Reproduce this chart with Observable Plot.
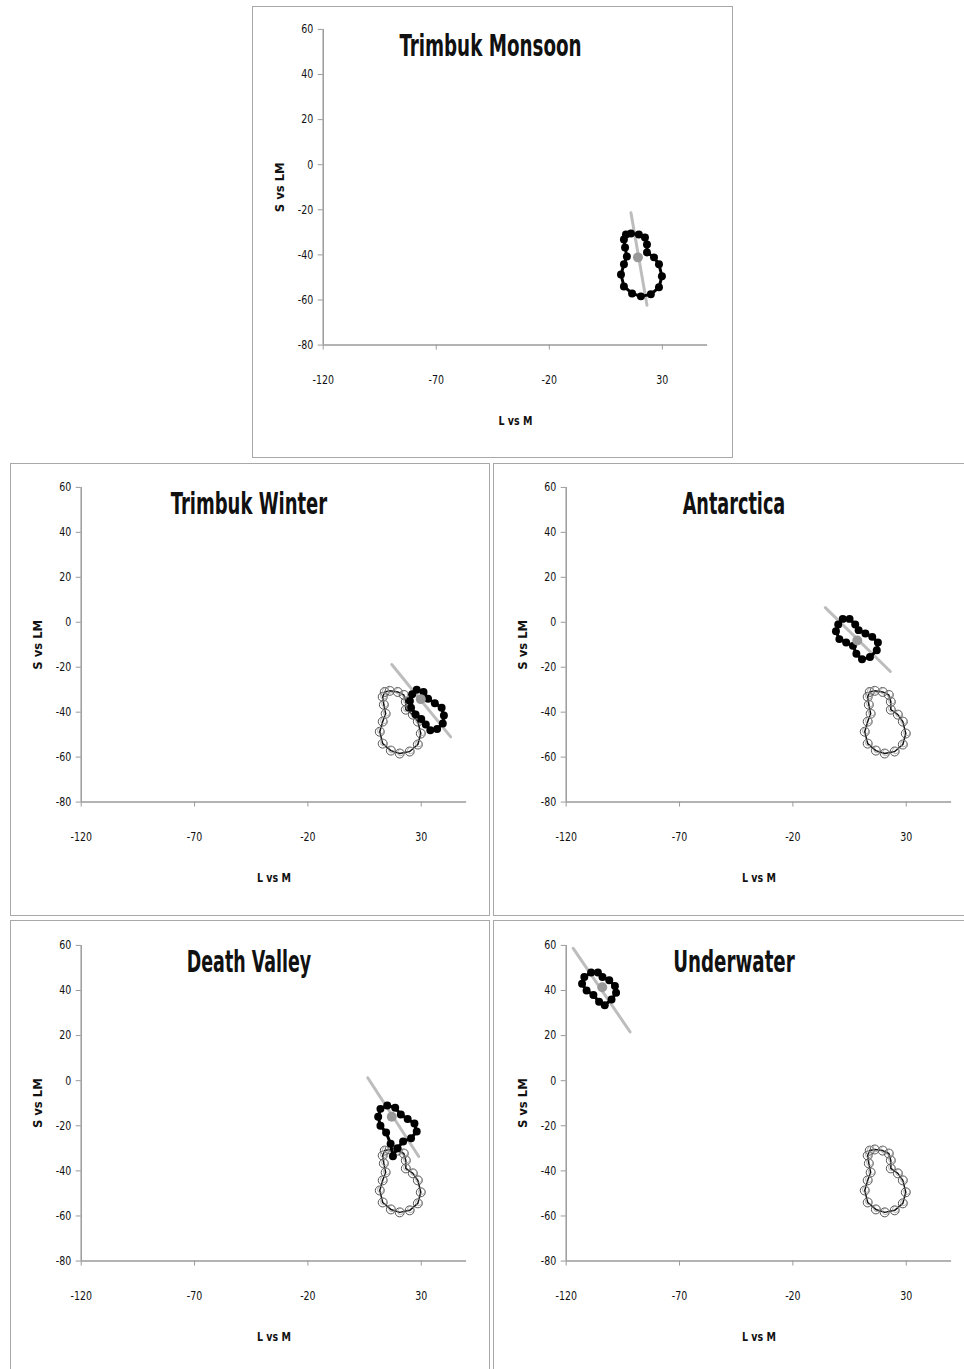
<!DOCTYPE html>
<html>
<head>
<meta charset="utf-8">
<script src="https://cdn.jsdelivr.net/npm/d3@7"></script>
<script src="https://cdn.jsdelivr.net/npm/@observablehq/plot@0.6"></script>
<style>
  html, body { margin: 0; padding: 0; background: #fff; }
  #page { position: relative; width: 964px; height: 1369px; overflow: hidden; background: #fff; }
  .panel { position: absolute; box-sizing: border-box; border: 1.5px solid #a8a8a8; overflow: hidden; background: #fff; }
  .panel svg { position: absolute; left: -1.5px; top: -1.5px; }
</style>
</head>
<body>
<div id="page"></div>
<script>
// Axis ticks
const xTicks = [-120, -70, -20, 30];
const yTicks = [-80, -60, -40, -20, 0, 20, 40, 60];
const xLabel = "L vs M";
const yLabel = "S vs LM";

// Reference condition: Trimbuk Monsoon  [L vs M, S vs LM]
const monsoon = [
  [13.9, -31], [16.1, -30.5], [19.6, -31], [22.3, -32.3], [23.2, -35.4], [23.2, -38.9],
  [26.3, -41.1], [28.5, -44.2], [29.8, -49.5], [28.5, -54.4], [24.9, -57.5], [20.5, -58.4],
  [16.6, -57.1], [13.0, -54], [11.7, -48.7], [13.0, -44.2], [14.3, -40.7], [13.5, -36.7], [13.0, -33.2]
];
const monsoonFit = [[16.1, -21.3], [23.2, -62.3]];
const monsoonCenter = [19.2, -41.1];

// Trimbuk Winter
const winter = [
  [26, -32], [28, -30], [31, -31], [33, -34], [36, -36], [39, -38], [40, -41.5], [39.5, -45],
  [37, -47.5], [34, -48], [32, -45.5], [30, -43], [27.5, -41], [25.5, -38], [25, -35]
];
const winterFit = [[17, -18.8], [43, -51]];
const winterCenter = [29.8, -34.2];

// Antarctica
const antarctica = [
  [-1, -4], [0, -1], [2, 1.5], [5, 1.5], [7.5, -1], [9, -3.5], [12, -5], [15, -6.5],
  [17.5, -9], [17, -12.5], [14, -15.5], [10.5, -16.5], [8, -14], [6.5, -10.5], [3.5, -9], [0.5, -7.5]
];
const antarcticaFit = [[-5.7, 6.5], [23, -21.9]];
const antarcticaCenter = [8.4, -8.1];

// Death Valley
const deathValley = [
  [11, -16], [12, -12.5], [15, -11], [18.5, -12], [21, -15], [24, -17], [27, -19], [28, -22.5],
  [25.5, -25.5], [22, -27], [19.5, -30], [17.5, -33.5], [16.5, -28], [14.5, -23], [12, -20]
];
const deathValleyFit = [[6.4, 1.3], [28.9, -33.6]];
const deathValleyCenter = [17, -16];

// Underwater
const underwater = [
  [-113, 43], [-112, 46], [-109, 48], [-106, 48], [-104, 46], [-101, 44.5], [-98.5, 42],
  [-98, 39], [-100, 36], [-103, 33.5], [-105.5, 35], [-108, 38], [-111, 40]
];
const underwaterFit = [[-116.9, 58.7], [-91.8, 21.6]];
const underwaterCenter = [-104.1, 41.4];

const FONT = "'Liberation Sans Narrow', 'DejaVu Sans Condensed', 'DejaVu Sans', sans-serif";

const panels = [
  {L: 252, T: 6,   W: 481, H: 452, mL: 71, mT: 23, mR: 24, mB: 112, title: "Trimbuk Monsoon", tw: 183, pts: monsoon, fit: monsoonFit, center: monsoonCenter, ref: false},
  {L: 10,  T: 463, W: 480, H: 453, mL: 71, mT: 24, mR: 22, mB: 113, title: "Trimbuk Winter", tw: 157, pts: winter, fit: winterFit, center: winterCenter, ref: true},
  {L: 493, T: 463, W: 480, H: 453, mL: 73, mT: 24, mR: 20, mB: 113, title: "Antarctica", tw: 103, pts: antarctica, fit: antarcticaFit, center: antarcticaCenter, ref: true},
  {L: 10,  T: 920, W: 480, H: 453, mL: 71, mT: 25, mR: 22, mB: 111, title: "Death Valley", tw: 125, pts: deathValley, fit: deathValleyFit, center: deathValleyCenter, ref: true},
  {L: 493, T: 920, W: 480, H: 453, mL: 73, mT: 25, mR: 20, mB: 111, title: "Underwater", tw: 122, pts: underwater, fit: underwaterFit, center: underwaterCenter, ref: true}
];

const page = document.getElementById("page");

function squeeze(t, len) {
  t.setAttribute("textLength", len);
  t.setAttribute("lengthAdjust", "spacingAndGlyphs");
}

for (const p of panels) {
  const marks = [
    Plot.ruleX([-120], {y1: -80, y2: 60, stroke: "#9a9a9a", strokeWidth: 1.5}),
    Plot.ruleY([-80], {x1: -120, x2: 50, stroke: "#9a9a9a", strokeWidth: 1.5}),
    Plot.axisY({ticks: yTicks, tickSize: 5, tickPadding: 5, stroke: "#9a9a9a", fill: "#111", label: null, tickFormat: d => String(d), fontSize: 12}),
    Plot.axisX({ticks: xTicks, tickSize: 5, tickPadding: 26, stroke: "#9a9a9a", fill: "#111", label: null, tickFormat: d => String(d), fontSize: 12}),
    Plot.text([p.title], {text: d => d, frameAnchor: "top", dx: -25, dy: 17, fontSize: 31, fontWeight: "bold", lineAnchor: "middle", textAnchor: "middle", fill: "#111"}),
    Plot.text([yLabel], {text: d => d, frameAnchor: "left", dx: -43, rotate: -90, fontSize: 12, fontWeight: "bold", textAnchor: "middle", lineAnchor: "middle", fill: "#111"}),
    Plot.text([xLabel], {text: d => d, frameAnchor: "bottom", dy: 76, fontSize: 13, fontWeight: "bold", fill: "#111", textAnchor: "middle", lineAnchor: "middle"})
  ];
  if (p.ref) {
    marks.push(
      Plot.line(monsoon, {x: d => d[0], y: d => d[1], curve: "linear-closed", stroke: "#111", strokeWidth: 1.5}),
      Plot.dot(monsoon, {x: d => d[0], y: d => d[1], r: 4.5, stroke: "#555", strokeWidth: 1, fill: "none"}),
      Plot.dot(monsoon, {x: d => d[0], y: d => d[1], r: 3.2, stroke: "#999", strokeWidth: 0.8, fill: "none", dx: 1, dy: -1})
    );
  }
  marks.push(
    Plot.line(p.fit, {x: d => d[0], y: d => d[1], stroke: "#bdbdbd", strokeWidth: 3}),
    Plot.line(p.pts, {x: d => d[0], y: d => d[1], curve: "linear-closed", stroke: "#000", strokeWidth: 3}),
    Plot.dot(p.pts, {x: d => d[0], y: d => d[1], r: 4, fill: "#000"}),
    Plot.dot([p.center], {x: d => d[0], y: d => d[1], r: 5, fill: "#999"})
  );
  const chart = Plot.plot({
    width: p.W,
    height: p.H,
    marginLeft: p.mL,
    marginTop: p.mT,
    marginRight: p.mR,
    marginBottom: p.mB,
    x: {domain: [-120, 50]},
    y: {domain: [-80, 60]},
    style: {fontFamily: FONT, background: "transparent", overflow: "visible"},
    marks
  });
  const div = document.createElement("div");
  div.className = "panel";
  div.style.left = p.L + "px";
  div.style.top = p.T + "px";
  div.style.width = p.W + "px";
  div.style.height = p.H + "px";
  div.appendChild(chart);
  page.appendChild(div);

  for (const t of chart.querySelectorAll("text")) {
    const s = t.textContent;
    if (s === p.title) squeeze(t, p.tw);
    else if (s === xLabel) squeeze(t, 34);
    else if (s === yLabel) squeeze(t, 50);
    else {
      const w = t.getComputedTextLength();
      if (w > 0) squeeze(t, w * 0.88);
    }
  }
}
</script>
</body>
</html>
